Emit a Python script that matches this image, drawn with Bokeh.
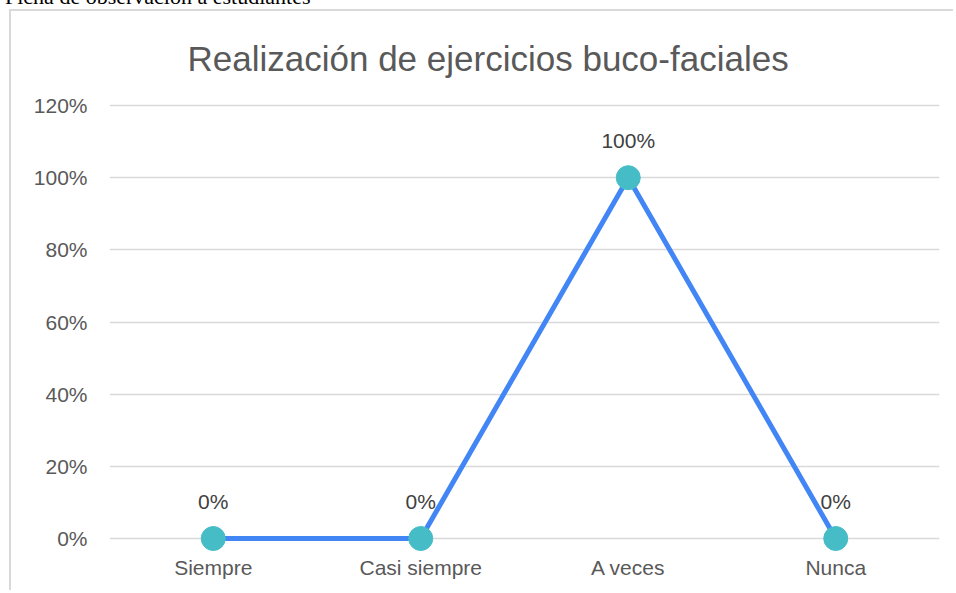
from bokeh.plotting import figure
from bokeh.models import (ColumnDataSource, FactorRange, Range1d, NumeralTickFormatter,
                          FixedTicker, Div, GlobalInlineStyleSheet)
from bokeh.layouts import column
from bokeh.core.properties import value
from bokeh.embed import file_html
from bokeh.resources import INLINE

# ---- data ----
categories = ["Siempre", "Casi siempre", "A veces", "Nunca"]
values = [0.0, 0.0, 1.0, 0.0]
y_ticks = [0.0, 0.2, 0.4, 0.6, 0.8, 1.0, 1.2]
title_text = "Realización de ejercicios buco-faciales"
caption_text = "Ficha de observación a estudiantes"

# ---- layout constants (canvas pixels) ----
W, H = 944, 581
FL, FR, FT, FB = 98, 928, 88, 540      # frame edges
Y0, Y120 = 527, 94                     # pixel rows of 0% and 120%
TEXT = "#595959"
GRID = "#d9d9d9"

ypx = 1.2 / (Y0 - Y120)
y_start = -(FB - Y0) * ypx
y_end = 1.2 + (Y120 - FT) * ypx

p = figure(width=W, height=H, x_range=FactorRange(*categories, range_padding=0),
           y_range=Range1d(y_start, y_end), output_backend="svg", toolbar_location=None,
           min_border_left=FL, min_border_right=W - FR, min_border_top=FT,
           min_border_bottom=H - FB)
p.styles = {"margin-left": "9px", "margin-top": "-4px",
            "border-left": f"2px solid {GRID}", "border-top": f"2px solid {GRID}"}
p.outline_line_color = None
p.background_fill_color = "white"
p.border_fill_color = "white"

p.title.text = title_text
p.title.text_font = "Liberation Sans"
p.title.text_font_size = "35px"
p.title.text_font_style = "normal"
p.title.text_color = TEXT
p.title.align = "left"
p.title.offset = 78
p.title.standoff = 44

# axes
p.yaxis.ticker = FixedTicker(ticks=y_ticks)
p.yaxis.formatter = NumeralTickFormatter(format="0%")
p.yaxis.axis_line_color = None
p.yaxis.major_tick_line_color = None
p.yaxis.minor_tick_line_color = None
p.yaxis.major_tick_out = 0
p.yaxis.major_label_standoff = 22
p.yaxis.major_label_text_font = "Liberation Sans"
p.yaxis.major_label_text_font_size = "21px"
p.yaxis.major_label_text_color = TEXT

p.xaxis.axis_line_color = None
p.xaxis.major_tick_line_color = None
p.xaxis.minor_tick_line_color = None
p.xaxis.major_tick_out = 0
p.xaxis.major_label_standoff = 4
p.xaxis.major_label_text_font = "Liberation Sans"
p.xaxis.major_label_text_font_size = "21px"
p.xaxis.major_label_text_color = TEXT

p.xgrid.grid_line_color = None
p.ygrid.ticker = FixedTicker(ticks=y_ticks)
p.ygrid.grid_line_color = GRID
p.ygrid.grid_line_width = 1.5

src = ColumnDataSource(dict(cat=categories, val=values,
                            lab=[f"{v:.0%}" for v in values]))

p.text(x="cat", y="val", text="lab", source=src, text_align="center",
       text_baseline="middle", y_offset=-37, text_font_size="21px",
       text_color="#404040", text_font=value("Liberation Sans"))
p.line(x="cat", y="val", source=src, line_color="#4285F4", line_width=5)
p.scatter(x="cat", y="val", source=src, size=24, fill_color="#46BDC6",
          line_color="#46BDC6")

cap = Div(text=caption_text, width=420, height=22,
          styles={"margin-top": "-14px", "font-family": "Liberation Serif",
                  "font-size": "22px", "line-height": "22px", "color": "black",
                  "white-space": "nowrap"})

layout = column(cap, p, spacing=0)
layout.stylesheets = [GlobalInlineStyleSheet(
    css="html, body { margin: 0 !important; padding: 0 !important; }")]

open("out.html", "w").write(file_html(layout, INLINE))
